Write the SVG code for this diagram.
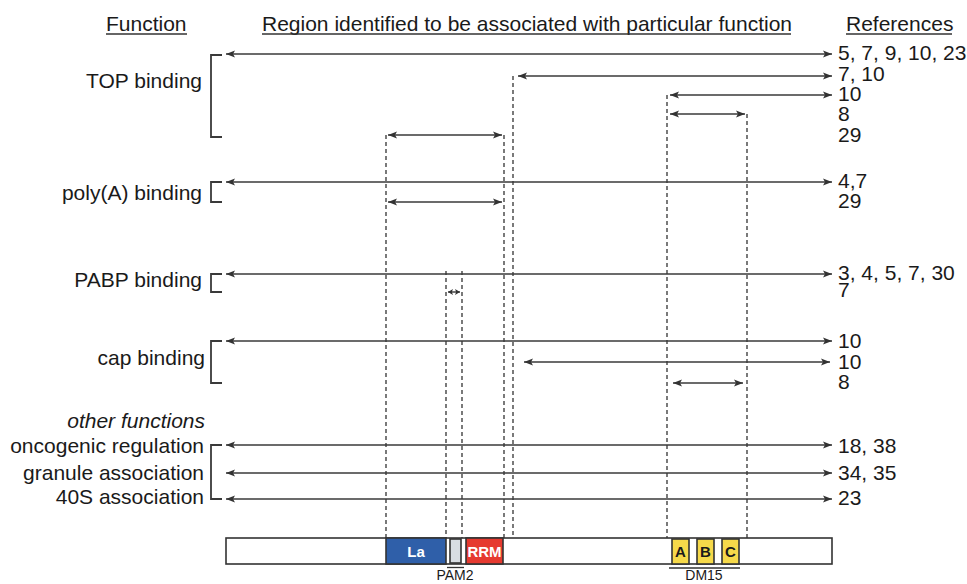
<svg xmlns="http://www.w3.org/2000/svg" width="967" height="584" viewBox="0 0 967 584">
<defs>
<marker id="ah" markerUnits="userSpaceOnUse" markerWidth="10" markerHeight="8" refX="9" refY="4" orient="auto-start-reverse">
<path d="M0,0.5 L9,4 L0,7.5 L2,4 z" fill="#333"/>
</marker>
<marker id="as" markerUnits="userSpaceOnUse" markerWidth="6" markerHeight="6" refX="5" refY="3" orient="auto-start-reverse">
<path d="M0,0 L5,3 L0,6 L1.2,3 z" fill="#333"/>
</marker>
<style>
text{font-family:"Liberation Sans",Arial,sans-serif;fill:#1a1a1a}
.lbl{font-size:21px;text-anchor:end}
.hdr{font-size:21px}
.ref{font-size:21px}
.arr{stroke:#3a3a3a;stroke-width:1.6;fill:none;marker-start:url(#ah);marker-end:url(#ah)}
.brk{stroke:#3a3a3a;stroke-width:1.8;fill:none}
.dash{stroke:#333;stroke-width:1.3;stroke-dasharray:4,3;fill:none}
.ul{stroke:#333;stroke-width:1.3}
.dom{stroke:#333;stroke-width:1.6}
.dt{font-size:15px;font-weight:bold;text-anchor:middle}
.sub{font-size:14px;text-anchor:middle}
</style>
</defs>

<g id="headers">
<text class="hdr" x="106" y="31">Function</text>
<line class="ul" x1="106" y1="34" x2="187" y2="34"/>
<text class="hdr" x="262" y="31">Region identified to be associated with particular function</text>
<line class="ul" x1="262" y1="34" x2="791" y2="34"/>
<text class="hdr" x="846" y="31">References</text>
<line class="ul" x1="846" y1="34" x2="952" y2="34"/>
</g>

<g id="dashed-guides">
<line class="dash" x1="386" y1="135" x2="386" y2="538"/>
<line class="dash" x1="504" y1="135" x2="504" y2="538"/>
<line class="dash" x1="513" y1="76" x2="513" y2="538"/>
<line class="dash" x1="667" y1="95" x2="667" y2="538"/>
<line class="dash" x1="747" y1="114" x2="747" y2="538"/>
<line class="dash" x1="446" y1="271" x2="446" y2="538"/>
<line class="dash" x1="462" y1="271" x2="462" y2="538"/>
</g>

<g id="top-binding">
<text class="lbl" x="202" y="88">TOP binding</text>
<path class="brk" d="M222,55 H211 V137 H222"/>
<text class="ref" x="838" y="60">5, 7, 9, 10, 23</text>
<text class="ref" x="838" y="81">7, 10</text>
<text class="ref" x="838" y="101">10</text>
<text class="ref" x="838" y="121">8</text>
<text class="ref" x="838" y="142">29</text>
</g>

<g id="polya-binding">
<text class="lbl" x="202" y="200">poly(A) binding</text>
<path class="brk" d="M222,182 H211 V202 H222"/>
<text class="ref" x="838" y="188">4,7</text>
<text class="ref" x="838" y="208">29</text>
</g>

<g id="pabp-binding">
<text class="lbl" x="202" y="287">PABP binding</text>
<path class="brk" d="M222,274 H211 V292 H222"/>
<text class="ref" x="838" y="280">3, 4, 5, 7, 30</text>
<text class="ref" x="838" y="297">7</text>
</g>

<g id="cap-binding">
<text class="lbl" x="205" y="365">cap binding</text>
<path class="brk" d="M222,341 H211 V383 H222"/>
<text class="ref" x="838" y="348">10</text>
<text class="ref" x="838" y="369">10</text>
<text class="ref" x="838" y="389">8</text>
</g>

<g id="other-functions">
<text class="lbl" x="205" y="428" font-style="italic">other functions</text>
<text class="lbl" x="204" y="453">oncogenic regulation</text>
<text class="lbl" x="204" y="480">granule association</text>
<text class="lbl" x="204" y="504">40S association</text>
<path class="brk" d="M222,445 H211 V499 H222"/>
<text class="ref" x="838" y="453">18, 38</text>
<text class="ref" x="838" y="480">34, 35</text>
<text class="ref" x="838" y="505">23</text>
</g>

<g id="connectors">
<line class="arr" x1="226" y1="54" x2="832" y2="54"/>
<line class="arr" x1="518" y1="76" x2="832" y2="76"/>
<line class="arr" x1="670" y1="95" x2="832" y2="95"/>
<line class="arr" x1="670" y1="114" x2="745" y2="114"/>
<line class="arr" x1="388" y1="135" x2="502" y2="135"/>
<line class="arr" x1="226" y1="182" x2="832" y2="182"/>
<line class="arr" x1="388" y1="202" x2="502" y2="202"/>
<line class="arr" x1="226" y1="274" x2="832" y2="274"/>
<line stroke="#3a3a3a" stroke-width="1.4" marker-start="url(#as)" marker-end="url(#as)" x1="448" y1="292" x2="460" y2="292"/>
<line class="arr" x1="226" y1="341" x2="832" y2="341"/>
<line class="arr" x1="524" y1="362" x2="830" y2="362"/>
<line class="arr" x1="673" y1="383" x2="743" y2="383"/>
<line class="arr" x1="226" y1="445" x2="832" y2="445"/>
<line class="arr" x1="226" y1="473" x2="832" y2="473"/>
<line class="arr" x1="226" y1="499" x2="832" y2="499"/>
</g>

<g id="protein-bar">
<rect class="dom" x="226" y="538" width="606" height="26" fill="#fff"/>
<rect class="dom" x="386" y="538" width="60" height="26" fill="#2f5fa9"/>
<text class="dt" x="416" y="557" style="fill:#fff">La</text>
<rect class="dom" x="450" y="539" width="11" height="24" fill="#d8dde2"/>
<rect class="dom" x="466" y="538" width="37" height="26" fill="#e63a30"/>
<text class="dt" x="484.5" y="557" style="fill:#fff">RRM</text>
<rect class="dom" x="672" y="539" width="17" height="25" fill="#f6d94a"/>
<text class="dt" x="680.5" y="557">A</text>
<rect class="dom" x="697" y="539" width="17" height="25" fill="#f6d94a"/>
<text class="dt" x="705.5" y="557">B</text>
<rect class="dom" x="722" y="539" width="17" height="25" fill="#f6d94a"/>
<text class="dt" x="730.5" y="557">C</text>
<line class="ul" x1="447" y1="567.5" x2="464" y2="567.5"/>
<text class="sub" x="455" y="580">PAM2</text>
<line class="ul" x1="669" y1="568" x2="740" y2="568"/>
<text class="sub" x="704" y="580">DM15</text>
</g>
</svg>
